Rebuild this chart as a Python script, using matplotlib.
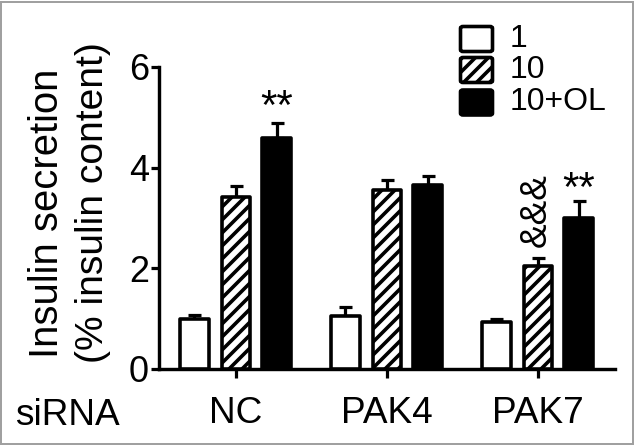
import matplotlib
matplotlib.use("Agg")
import matplotlib.pyplot as plt
import numpy as np
from matplotlib.patches import Rectangle, FancyBboxPatch

DPI = 78
W, H = 635, 446


def pt(px):
    return px * 72.0 / DPI


def fx(px):
    return px / W


def fy(py):
    return 1 - py / H


plt.rcParams['font.family'] = ['Liberation Sans', 'DejaVu Sans']
plt.rcParams['hatch.linewidth'] = pt(3.6)

groups = ["NC", "PAK4", "PAK7"]
series = ["1", "10", "10+OL"]
means = {
    "1": [0.99, 1.05, 0.93],
    "10": [3.42, 3.55, 2.05],
    "10+OL": [4.58, 3.65, 3.00],
}
errs = {
    "1": [0.08, 0.18, 0.07],
    "10": [0.22, 0.20, 0.15],
    "10+OL": [0.30, 0.19, 0.33],
}
yticks = [0, 2, 4, 6]

fig = plt.figure(figsize=(W / DPI, H / DPI), dpi=DPI)
fig.patch.set_facecolor("white")
ax = fig.add_axes([fx(159), fy(369), (615 - 159) / W, (369 - 67) / H])

x = np.arange(len(groups))
offsets = [-0.275, 0.0, 0.27]
width = 0.19
styles = [dict(facecolor="white", hatch=None),
          dict(facecolor="white", hatch="//"),
          dict(facecolor="black", hatch=None)]
for s, off, st in zip(series, offsets, styles):
    b = ax.bar(x + off, means[s], width, facecolor=st["facecolor"], edgecolor="black",
               linewidth=pt(3.6), hatch=st["hatch"], label=s, zorder=3)
    for p in b.patches:
        p.set_joinstyle("round")
    ax.errorbar(x + off, means[s], yerr=[np.zeros(len(groups)), errs[s]], fmt="none",
                ecolor="black", elinewidth=pt(3.2), capsize=pt(6.5), capthick=pt(3.2), zorder=2)

ax.set_xlim(-0.51, 2.51)
ax.set_ylim(0, 6)
ax.set_yticks(yticks)
ax.set_yticklabels([str(t) for t in yticks], fontsize=pt(36))
ax.set_xticks(x)
ax.set_xticklabels(groups, fontsize=pt(37))
ax.tick_params(axis="y", direction="out", length=pt(8), width=pt(3.2), pad=pt(2))
ax.tick_params(axis="x", direction="out", length=pt(9), width=pt(3.2), pad=pt(18))
for sp in ["top", "right"]:
    ax.spines[sp].set_visible(False)
for sp in ["left", "bottom"]:
    ax.spines[sp].set_linewidth(pt(3.4))
ax.set_facecolor("none")

# significance marks
ax.text(x[0] + offsets[2], 5.58, "**", ha="center", va="top", fontsize=pt(42))
ax.text(x[2] + offsets[2], 3.96, "**", ha="center", va="top", fontsize=pt(42))
ax.text(x[2] + offsets[1] - 0.01, 2.42, "&&&", ha="center", va="bottom", fontsize=pt(37), rotation=90)

fig.text(fx(47), fy(213), "Insulin secretion", rotation=90, ha="center", va="center", fontsize=pt(40))
fig.text(fx(93), fy(203), "(% insulin content)", rotation=90, ha="center", va="center", fontsize=pt(39))
fig.text(fx(15), fy(425), "siRNA", ha="left", va="baseline", fontsize=pt(37))

# legend drawn by hand
leg_y = [39, 70, 102.5]
for (s, st, cy) in zip(series, styles, leg_y):
    box = FancyBboxPatch((fx(460.5), fy(cy + 12.5)), (492.5 - 460.5) / W, 25 / H,
                         boxstyle="round,pad=0,rounding_size=0.004",
                         transform=fig.transFigure, facecolor=st["facecolor"],
                         edgecolor="black", linewidth=pt(3.6), hatch=st["hatch"])
    fig.add_artist(box)
    fig.text(fx(510), fy(cy), s, ha="left", va="center", fontsize=pt(32))

fig.patches.append(Rectangle((1 / W, 2 / H), (W - 3) / W, (H - 4) / H, transform=fig.transFigure,
                             fill=False, edgecolor="#a0a0a0", linewidth=pt(2)))

fig.savefig("out.png", dpi=DPI, facecolor="white")
